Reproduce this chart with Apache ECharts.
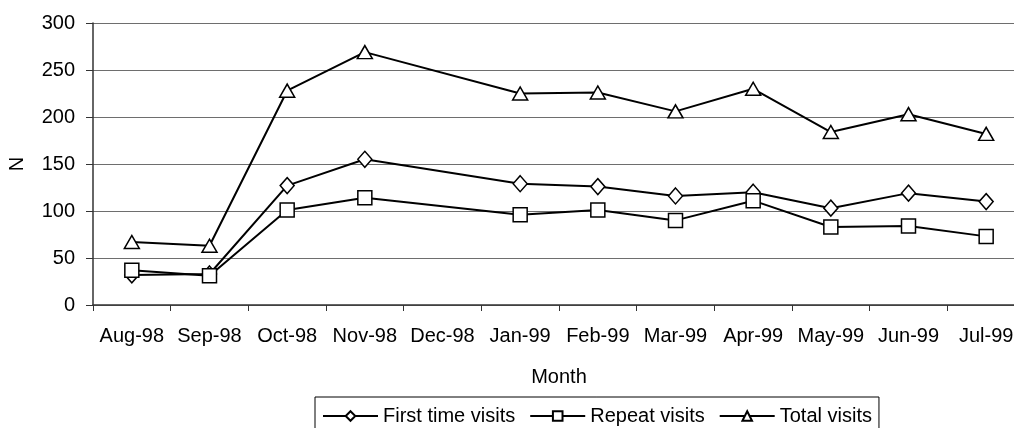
<!DOCTYPE html>
<html>
<head>
<meta charset="utf-8">
<script src="https://cdn.jsdelivr.net/npm/echarts@6/dist/echarts.min.js"></script>
<style>
  html, body { margin: 0; padding: 0; background: #fff; }
  #visits-chart { width: 1014px; height: 428px; }
</style>
</head>
<body>
<div id="visits-chart"></div>
<script>
// month labels (no data recorded for Dec-98)
const months = ['Aug-98', 'Sep-98', 'Oct-98', 'Nov-98', 'Dec-98', 'Jan-99', 'Feb-99', 'Mar-99', 'Apr-99', 'May-99', 'Jun-99', 'Jul-99'];
const firstTimeVisits = [32, 33, 127, 155, null, 129, 126, 116, 120, 103, 119, 110];
const repeatVisits = [37, 31, 101, 114, null, 96, 101, 90, 111, 83, 84, 73];
const totalVisits = [67, 63, 228, 269, null, 225, 226, 206, 230, 184, 203, 182];
const yTicks = { min: 0, max: 300, interval: 50 };

const chartDom = document.getElementById('visits-chart');
const myChart = echarts.init(chartDom);

const baseFont = 'Liberation Sans, Arial, sans-serif';

const makeSeries = (name, data, symbol, size) => ({
  name: name,
  type: 'line',
  data: data,
  connectNulls: true,
  symbol: symbol,
  symbolSize: size,
  showAllSymbol: true,
  lineStyle: { color: '#000', width: 2 },
  itemStyle: { color: '#fff', borderColor: '#000', borderWidth: 1.5 },
  emphasis: { disabled: true },
  animation: false,
});

const option = {
  animation: false,
  textStyle: { fontFamily: baseFont },
  grid: {
    left: 93,
    top: 23,
    width: 932,
    height: 282,
    containLabel: false,
    outerBoundsMode: 'none',
  },
  legend: {
    left: 315,
    top: 397,
    padding: [9, 7, 12, 7],
    itemWidth: 55,
    itemHeight: 12,
    itemGap: 14,
    borderColor: '#000',
    borderWidth: 1,
    textStyle: { fontSize: 20, color: '#000', fontFamily: baseFont },
    data: ['First time visits', 'Repeat visits', 'Total visits'],
  },
  xAxis: {
    type: 'category',
    data: months,
    boundaryGap: true,
    name: 'Month',
    nameLocation: 'middle',
    nameGap: 62,
    nameTextStyle: { fontSize: 20, color: '#000', fontFamily: baseFont },
    axisLine: { lineStyle: { color: '#333', width: 1.5 } },
    axisTick: { show: true, length: 6, interval: 0, lineStyle: { color: '#333' } },
    axisLabel: { fontSize: 20, color: '#000', margin: 21, interval: 0, fontFamily: baseFont },
  },
  yAxis: {
    type: 'value',
    min: yTicks.min,
    max: yTicks.max,
    interval: yTicks.interval,
    name: 'N',
    nameLocation: 'middle',
    nameGap: 66,
    nameTextStyle: { fontSize: 20, color: '#000', fontFamily: baseFont },
    axisLine: { show: true, lineStyle: { color: '#333', width: 1.5 } },
    axisTick: { show: true, length: 7, lineStyle: { color: '#333' } },
    axisLabel: { fontSize: 20, color: '#000', margin: 18, fontFamily: baseFont },
    splitLine: { show: true, lineStyle: { color: '#6e6e6e', width: 1 } },
  },
  series: [
    makeSeries('First time visits', firstTimeVisits, 'diamond', [14, 16]),
    makeSeries('Repeat visits', repeatVisits, 'rect', 14),
    makeSeries('Total visits', totalVisits, 'triangle', [15, 13]),
  ],
};

myChart.setOption(option);

window.addEventListener('resize', () => myChart.resize());
</script>
</body>
</html>
